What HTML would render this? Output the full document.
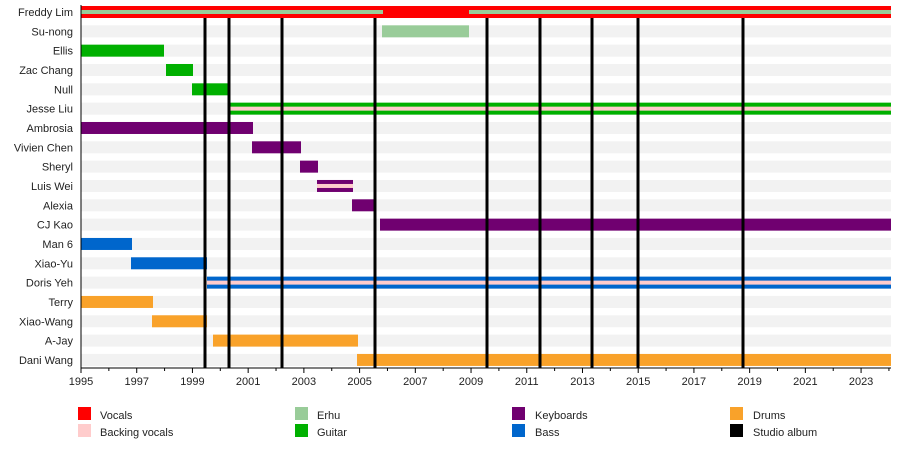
<!DOCTYPE html>
<html><head><meta charset="utf-8"><style>
body{margin:0;background:#fff}
svg text{font-family:"Liberation Sans",sans-serif;font-size:11px;fill:#222}
</style></head><body>
<svg width="900" height="445" xmlns="http://www.w3.org/2000/svg">
<g id="bands" fill="#f2f2f2"></g>
<g id="bars"></g>
<g id="albums" stroke="#000" stroke-width="3"></g>
<g id="axis"></g>
<g id="labels" text-anchor="end"></g>
<g>
<rect x="78" y="407" width="13" height="13" fill="#ff0000"/><text x="100" y="419">Vocals</text>
<rect x="78" y="424" width="13" height="13" fill="#ffcccc"/><text x="100" y="436">Backing vocals</text>
<rect x="295" y="407" width="13" height="13" fill="#99cc99"/><text x="317" y="419">Erhu</text>
<rect x="295" y="424" width="13" height="13" fill="#00b000"/><text x="317" y="436">Guitar</text>
<rect x="512" y="407" width="13" height="13" fill="#700070"/><text x="535" y="419">Keyboards</text>
<rect x="512" y="424" width="13" height="13" fill="#0066cc"/><text x="535" y="436">Bass</text>
<rect x="730" y="407" width="13" height="13" fill="#f9a22a"/><text x="753" y="419">Drums</text>
<rect x="730" y="424" width="13" height="13" fill="#000"/><text x="753" y="436">Studio album</text>
</g>
</svg>
<script>
const names=["Freddy Lim","Su-nong","Ellis","Zac Chang","Null","Jesse Liu","Ambrosia","Vivien Chen","Sheryl","Luis Wei","Alexia","CJ Kao","Man 6","Xiao-Yu","Doris Yeh","Terry","Xiao-Wang","A-Jay","Dani Wang"];
const NS="http://www.w3.org/2000/svg";
function el(p,t,a,txt){const e=document.createElementNS(NS,t);for(const k in a)e.setAttribute(k,a[k]);if(txt)e.textContent=txt;document.getElementById(p).appendChild(e);}
const yc=i=>12+i*19.33;
names.forEach((n,i)=>{el("bands","rect",{x:81,y:yc(i)-6,width:810,height:12});el("labels","text",{x:73,y:yc(i)+4},n);});
const R="#ff0000",E="#99cc99",G="#00b000",P="#700070",B="#0066cc",O="#f9a22a",K="#ffcccc";
const bars=[[0,81,891,R],[1,382,469,E],[2,81,164,G],[3,166,193,G],[4,192,229,G],[5,229,891,G],[6,81,253,P],[7,252,301,P],[8,300,318,P],[9,317,353,P],[10,352,375,P],[11,380,891,P],[12,81,132,B],[13,131,207,B],[14,207,891,B],[15,81,153,O],[16,152,207,O],[17,213,358,O],[18,357,891,O]];
bars.forEach(([i,a,b,c])=>el("bars","rect",{x:a,y:yc(i)-6,width:b-a,height:12,fill:c}));
[[0,81,383,E],[0,469,891,E],[5,229,891,K],[9,317,353,K],[14,207,891,K]].forEach(([i,a,b,c])=>el("bars","rect",{x:a,y:yc(i)-2,width:b-a,height:4,fill:c}));
[205,229,282,375,487,540,592,638,743].forEach(x=>el("albums","line",{x1:x,y1:18,x2:x,y2:368}));
el("axis","line",{x1:81,y1:5,x2:81,y2:368,stroke:"#000","stroke-width":1});
el("axis","line",{x1:81,y1:368,x2:891,y2:368,stroke:"#000","stroke-width":1});
for(let y=1995;y<=2024;y++){const x=81+(y-1995)*27.86;el("axis","line",{x1:x,y1:368,x2:x,y2:(y%2?373:371),stroke:"#000","stroke-width":1});
if(y%2)el("axis","text",{x:x,y:385,"text-anchor":"middle"},String(y));}
</script>
</body></html>
